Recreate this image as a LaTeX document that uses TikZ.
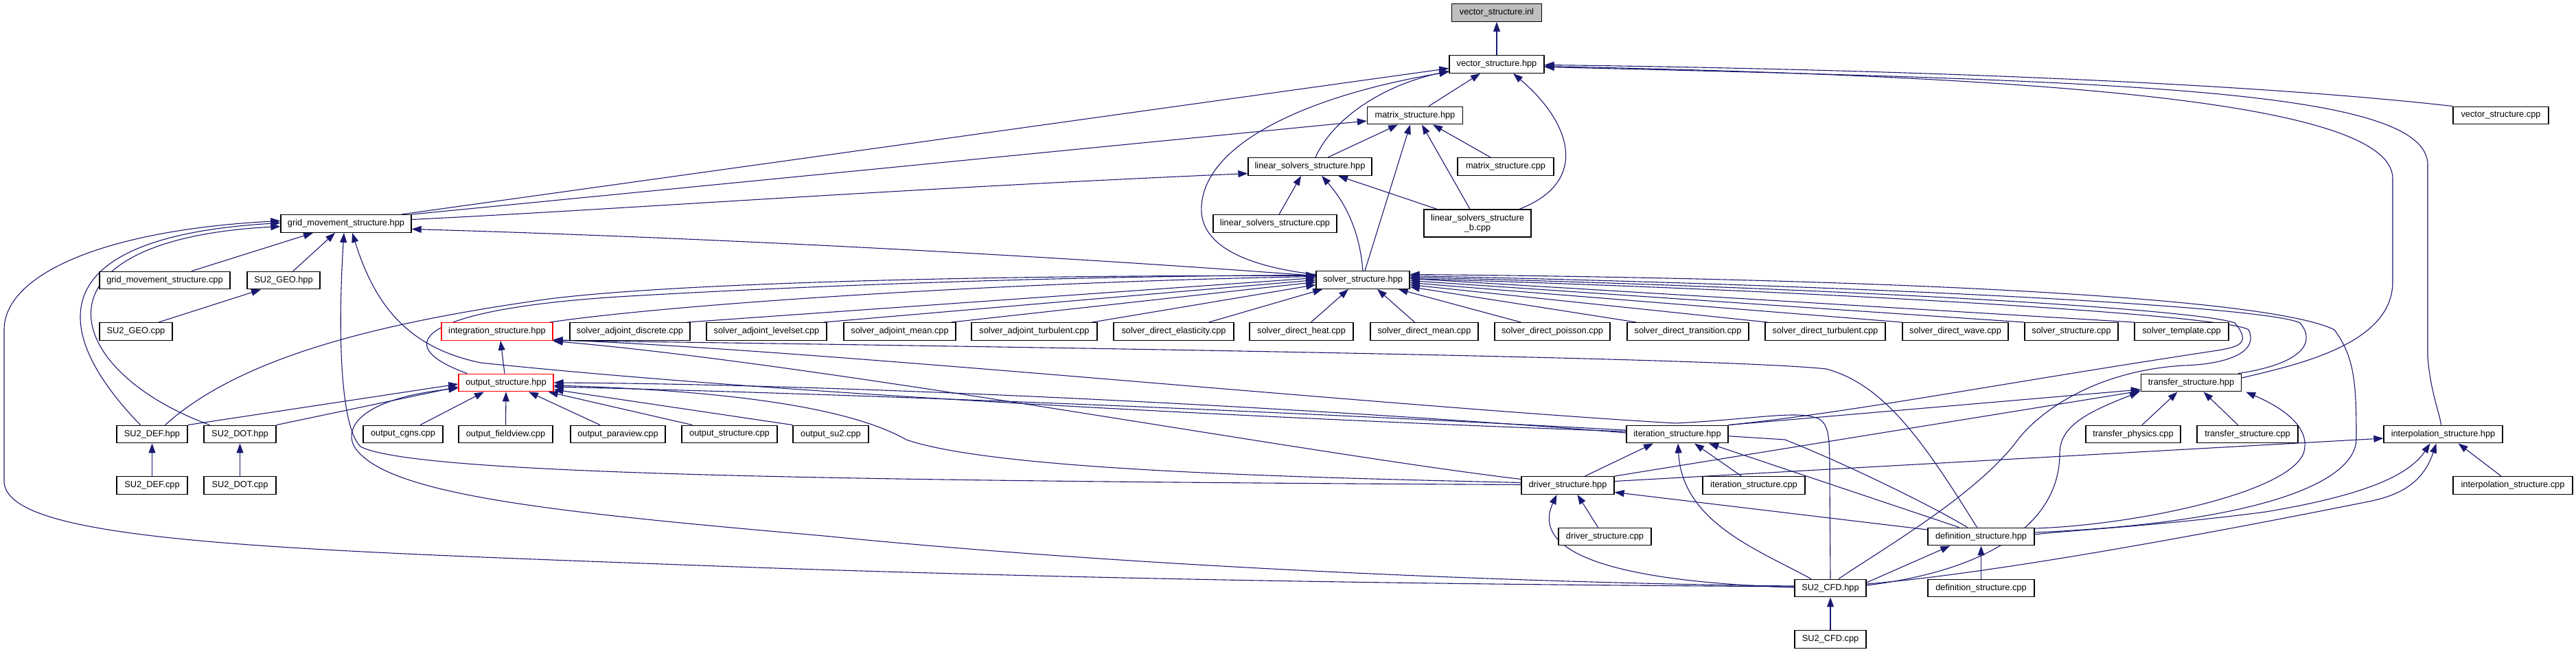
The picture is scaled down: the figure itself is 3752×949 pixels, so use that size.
\documentclass[tikz,border=0pt]{standalone}
\usepackage{fontspec}
\newfontfamily\lab{Liberation Sans}
\usetikzlibrary{arrows.meta,calc}
\definecolor{mblue}{RGB}{25,25,112}
\definecolor{gfill}{RGB}{191,191,191}
\pgfdeclarelayer{bg}
\pgfsetlayers{bg,main}
\tikzset{
  box/.style={draw=black, line width=1.3pt, fill=white, minimum height=25.6pt, inner sep=0pt, font=\lab\fontsize{12.8}{14.5}\selectfont},
  rbox/.style={box, draw=red},
  e/.style={draw=mblue, line width=1.1pt, {Triangle[length=14pt,width=10pt]}-},
}
\begin{document}
\begin{tikzpicture}[x=1pt,y=-1pt]
\useasboundingbox (0,0) rectangle (3752,949);
% nodes
\node[box, fill=gfill, minimum width=131pt] (vs_inl) at (2180,18.5) {vector\_structure.inl};
\node[box, minimum width=138pt] (vs_hpp) at (2180,93.5) {vector\_structure.hpp};
\node[box, minimum width=139pt] (ms_hpp) at (2061,168) {matrix\_structure.hpp};
\node[box, minimum width=139pt] (vs_cpp) at (3642.5,168) {vector\_structure.cpp};
\node[box, minimum width=180pt] (lss_hpp) at (1908,242.5) {linear\_solvers\_structure.hpp};
\node[box, minimum width=140pt] (ms_cpp) at (2193,242.5) {matrix\_structure.cpp};
\node[box, minimum width=190pt] (gm_hpp) at (504,325.5) {grid\_movement\_structure.hpp};
\node[box, minimum width=180pt] (lss_cpp) at (1857,325.5) {linear\_solvers\_structure.cpp};
\node[box, minimum width=156pt, minimum height=40pt, align=center] (lssb_cpp) at (2152,325) {linear\_solvers\_structure\\\_b.cpp};
\node[box, minimum width=190pt] (gm_cpp) at (240,408) {grid\_movement\_structure.cpp};
\node[box, minimum width=106pt] (geo_hpp) at (413,408) {SU2\_GEO.hpp};
\node[box, minimum width=136pt] (ss_hpp) at (1985,407.5) {solver\_structure.hpp};
\node[box, minimum width=106pt] (geo_cpp) at (198,482.5) {SU2\_GEO.cpp};
\node[rbox, minimum width=162pt] (integ) at (724,482.5) {integration\_structure.hpp};
\node[box, minimum width=175pt] (sad) at (917.5,482.5) {solver\_adjoint\_discrete.cpp};
\node[box, minimum width=175pt] (sal) at (1116.5,482.5) {solver\_adjoint\_levelset.cpp};
\node[box, minimum width=163pt] (sam) at (1310.5,482.5) {solver\_adjoint\_mean.cpp};
\node[box, minimum width=183pt] (sat) at (1506.5,482.5) {solver\_adjoint\_turbulent.cpp};
\node[box, minimum width=175pt] (sde) at (1709.5,482.5) {solver\_direct\_elasticity.cpp};
\node[box, minimum width=151pt] (sdh) at (1895.5,482.5) {solver\_direct\_heat.cpp};
\node[box, minimum width=157pt] (sdm) at (2074.5,482.5) {solver\_direct\_mean.cpp};
\node[box, minimum width=168pt] (sdp) at (2261,482.5) {solver\_direct\_poisson.cpp};
\node[box, minimum width=177pt] (sdtr) at (2458.5,482.5) {solver\_direct\_transition.cpp};
\node[box, minimum width=175pt] (sdtu) at (2658.5,482.5) {solver\_direct\_turbulent.cpp};
\node[box, minimum width=154pt] (sdw) at (2848,482.5) {solver\_direct\_wave.cpp};
\node[box, minimum width=136pt] (ss_cpp) at (3017,482.5) {solver\_structure.cpp};
\node[box, minimum width=137pt] (stemp) at (3177.5,482.5) {solver\_template.cpp};
\node[rbox, minimum width=138pt] (out_hpp) at (737,557) {output\_structure.hpp};
\node[box, minimum width=146pt] (tr_hpp) at (3191.5,557) {transfer\_structure.hpp};
\node[box, minimum width=103pt] (def_hpp) at (221.5,632) {SU2\_DEF.hpp};
\node[box, minimum width=105pt] (dot_hpp) at (349.5,632) {SU2\_DOT.hpp};
\node[box, minimum width=116pt] (cgns) at (587,632) {output\_cgns.cpp};
\node[box, minimum width=137pt] (fview) at (736.5,632) {output\_fieldview.cpp};
\node[box, minimum width=138pt] (pview) at (900,632) {output\_paraview.cpp};
\node[box, minimum width=139pt] (out_cpp) at (1062.5,632) {output\_structure.cpp};
\node[box, minimum width=110pt] (su2) at (1210,632) {output\_su2.cpp};
\node[box, minimum width=148pt] (it_hpp) at (2443,632) {iteration\_structure.hpp};
\node[box, minimum width=138pt] (tphys) at (3107,632) {transfer\_physics.cpp};
\node[box, minimum width=147pt] (tr_cpp) at (3273.5,632) {transfer\_structure.cpp};
\node[box, minimum width=173pt] (ip_hpp) at (3558.5,632) {interpolation\_structure.hpp};
\node[box, minimum width=103pt] (def_cpp) at (221.5,706.5) {SU2\_DEF.cpp};
\node[box, minimum width=105pt] (dot_cpp) at (349.5,706.5) {SU2\_DOT.cpp};
\node[box, minimum width=135pt] (dr_hpp) at (2283.5,706.5) {driver\_structure.hpp};
\node[box, minimum width=149pt] (it_cpp) at (2554.5,706.5) {iteration\_structure.cpp};
\node[box, minimum width=174pt] (ip_cpp) at (3660,706.5) {interpolation\_structure.cpp};
\node[box, minimum width=135pt] (dr_cpp) at (2337.5,781) {driver\_structure.cpp};
\node[box, minimum width=155pt] (dfn_hpp) at (2885.5,781) {definition\_structure.hpp};
\node[box, minimum width=104pt] (cfd_hpp) at (2666,856) {SU2\_CFD.hpp};
\node[box, minimum width=155pt] (dfn_cpp) at (2885.5,856) {definition\_structure.cpp};
\node[box, minimum width=104pt] (cfd_cpp) at (2666,930.5) {SU2\_CFD.cpp};
\begin{pgfonlayer}{bg}
% top part
\draw[e] (vs_inl.south) -- (vs_hpp.north);
\draw[e] ($(vs_hpp.south)+(-24,0)$) -- ($(ms_hpp.north)+(20,0)$);
\draw[e] ($(vs_hpp.west)+(0,10)$) .. controls (2010,125) and (1940,175) .. ($(lss_hpp.north)+(8,0)$);
\draw[e] ($(ms_hpp.south)+(-25,0)$) -- ($(lss_hpp.north)+(26,0)$);
\draw[e] ($(vs_hpp.south)+(24,0)$) .. controls (2290,180) and (2315,265) .. ($(lssb_cpp.north)+(61,0)$);
\draw[e] ($(ms_hpp.south)+(10,0)$) -- ($(lssb_cpp.north)+(-11,0)$);
\draw[e] ($(lss_hpp.south)+(41,0)$) -- ($(lssb_cpp.north)+(-59,0)$);
\draw[e] ($(lss_hpp.south)+(-13,0)$) -- ($(lss_cpp.north)+(6,0)$);
\draw[e] ($(ms_hpp.south)+(26,0)$) -- ($(ms_cpp.north)+(-22,0)$);
\draw[e] ($(vs_hpp.east)+(0,1)$) .. controls (2700,100) and (3250,118) .. (vs_cpp.north west);
\draw[e] ($(vs_hpp.west)+(0,6)$) -- ($(gm_hpp.north east)+(-15,0)$);
\draw[e] ($(ms_hpp.west)+(0,8)$) -- (gm_hpp.north east);
\draw[e] ($(lss_hpp.west)+(0,10)$) .. controls (1300,275) and (900,305) .. ($(gm_hpp.east)+(0,-6)$);
\draw[e] ($(vs_hpp.west)+(0,11)$) .. controls (1900,140) and (1755,210) .. (1750,300) .. controls (1745,370) and (1850,392) .. ($(ss_hpp.west)+(0,-8)$);
\draw[e] ($(ms_hpp.south)+(-7,0)$) -- ($(ss_hpp.north)+(3,0)$);
\draw[e] ($(lss_hpp.south)+(17,0)$) .. controls (1955,290) and (1980,330) .. (ss_hpp.north);
\draw[e] ($(gm_hpp.east)+(0,8)$) .. controls (1000,345) and (1500,370) .. ($(ss_hpp.west)+(0,-6)$);
\draw[e] ($(vs_hpp.east)+(0,3)$) .. controls (3000,112) and (3485,150) .. (3485,260) -- (3485,410) .. controls (3485,500) and (3350,530) .. ($(tr_hpp.east)+(0,-7)$);
\draw[e] ($(vs_hpp.east)+(0,4)$) .. controls (3100,118) and (3536,130) .. (3536,240) -- (3536,520) .. controls (3540,570) and (3553,600) .. ($(ip_hpp.north)+(-3,0)$);
% grid movement
\draw[e] ($(gm_hpp.south)+(-48,0)$) -- ($(gm_cpp.north)+(39,0)$);
\draw[e] ($(gm_hpp.south)+(-16,0)$) -- ($(geo_hpp.north)+(14,0)$);
\draw[e] ($(geo_hpp.south)+(-33,0)$) -- ($(geo_cpp.north)+(33,0)$);
\draw[e] ($(gm_hpp.west)+(0,-1)$) .. controls (60,345) and (70,480) .. ($(def_hpp.north)+(-17,0)$);
\draw[e] ($(gm_hpp.west)+(0,4)$) .. controls (30,350) and (90,540) .. ($(dot_hpp.north)+(-44,0)$);
\draw[e] ($(gm_hpp.west)+(0,-4)$) .. controls (150,335) and (6,400) .. (6,480) -- (6,700) .. controls (6,790) and (400,800) .. (1100,826) .. controls (1800,850) and (2400,852) .. ($(cfd_hpp.west)+(0,-2)$);
\draw[e] ($(gm_hpp.south)+(-3,0)$) .. controls (492,480) and (495,620) .. (525,650) .. controls (600,690) and (1200,700) .. ($(dr_hpp.west)+(0,-1)$);
\draw[e] ($(gm_hpp.south)+(9,0)$) .. controls (545,440) and (590,505) .. (700,528) .. controls (1200,580) and (2000,615) .. ($(it_hpp.west)+(0,-4)$);
% solver structure
\draw[e] ($(ss_hpp.west)+(0,-3)$) -- ($(sad.north east)+(-5,0)$);
\draw[e] ($(ss_hpp.west)+(0,0)$) -- ($(sal.north east)+(-5,0)$);
\draw[e] ($(ss_hpp.west)+(0,3)$) -- ($(sam.north east)+(-7,0)$);
\draw[e] ($(ss_hpp.west)+(0,7)$) -- ($(sat.north east)+(-8,0)$);
\draw[e] ($(ss_hpp.south west)+(10,0)$) -- ($(sde.north east)+(-37,0)$);
\draw[e] ($(ss_hpp.south)+(-21,0)$) -- ($(sdh.north)+(14,0)$);
\draw[e] ($(ss_hpp.south)+(21,0)$) -- ($(sdm.north)+(-14,0)$);
\draw[e] ($(ss_hpp.south east)+(-17,0)$) -- ($(sdp.north west)+(39,0)$);
\draw[e] ($(ss_hpp.east)+(0,10)$) -- ($(sdtr.north west)+(14,0)$);
\draw[e] ($(ss_hpp.east)+(0,7)$) -- ($(sdtu.north west)+(4,0)$);
\draw[e] ($(ss_hpp.east)+(0,4)$) -- ($(sdw.north west)+(0,0)$);
\draw[e] ($(ss_hpp.east)+(0,1)$) -- (ss_cpp.north west);
\draw[e] ($(ss_hpp.east)+(0,-2)$) -- (stemp.north west);
\draw[e] ($(ss_hpp.west)+(0,-5)$) .. controls (1500,410) and (1000,440) .. ($(integ.north east)+(-5,0)$);
\draw[e] ($(ss_hpp.west)+(0,-7)$) .. controls (1500,402) and (1100,420) .. (900,432) .. controls (620,450) and (560,500) .. ($(out_hpp.north west)+(13,0)$);
\draw[e] ($(ss_hpp.west)+(0,-6)$) .. controls (1500,400) and (1000,410) .. (800,435) .. controls (550,470) and (350,520) .. ($(def_hpp.north)+(19,0)$);
% output
\draw[e] ($(integ.south)+(5,0)$) -- ($(out_hpp.north)+(-2,0)$);
\draw[e] ($(out_hpp.west)+(0,2)$) -- (def_hpp.north east);
\draw[e] ($(out_hpp.west)+(0,6)$) -- (dot_hpp.north east);
\draw[e] ($(out_hpp.west)+(0,8)$) .. controls (530,580) and (500,620) .. (516,650) .. controls (560,720) and (800,745) .. (1200,780) .. controls (1700,830) and (2300,850) .. ($(cfd_hpp.west)+(0,-3)$);
\draw[e] ($(out_hpp.south)+(-32,0)$) -- ($(cgns.north)+(25,0)$);
\draw[e] (out_hpp.south) -- (fview.north);
\draw[e] ($(out_hpp.south)+(33,0)$) -- ($(pview.north)+(-26,0)$);
\draw[e] ($(out_hpp.south east)+(-8,0)$) -- ($(out_cpp.north west)+(16,0)$);
\draw[e] ($(out_hpp.east)+(0,10)$) -- ($(su2.north west)+(0,0)$);
\draw[e] (def_hpp.south) -- (def_cpp.north);
\draw[e] (dot_hpp.south) -- (dot_cpp.north);
% iteration / driver / definition / cfd
\draw[e] ($(integ.east)+(0,12)$) .. controls (1200,510) and (2000,590) .. (2440,616) .. controls (2560,610) and (2620,596) .. (2650,610) .. controls (2665,620) and (2665,640) .. (2665,700) -- (cfd_hpp.north);
\draw[e] ($(out_hpp.east)+(0,0)$) .. controls (1300,560) and (2000,600) .. ($(it_hpp.west)+(0,-2)$);
\draw[e] ($(integ.east)+(0,14)$) .. controls (1200,530) and (1900,660) .. ($(dr_hpp.west)+(0,-9)$);
\draw[e] ($(out_hpp.east)+(0,4)$) .. controls (1100,570) and (1250,600) .. (1320,640) .. controls (1450,685) and (1900,695) .. ($(dr_hpp.west)+(0,-4)$);
\draw[e] ($(integ.east)+(0,13)$) .. controls (1500,505) and (2500,520) .. (2660,537) .. controls (2744,560) and (2800,640) .. ($(dfn_hpp.north)+(-6,0)$);
\draw[e] ($(out_hpp.east)+(0,6)$) .. controls (1500,580) and (2300,620) .. (2600,640) .. controls (2700,680) and (2820,740) .. ($(dfn_hpp.north)+(-20,0)$);
\draw[e] ($(it_hpp.south)+(-35,0)$) -- ($(dr_hpp.north)+(25,0)$);
\draw[e] ($(it_hpp.south)+(25,0)$) -- ($(it_cpp.north)+(-18,0)$);
\draw[e] ($(it_hpp.south)+(1,0)$) .. controls (2450,760) and (2560,800) .. ($(cfd_hpp.north)+(-28,0)$);
\draw[e] ($(it_hpp.south)+(46,0)$) -- ($(dfn_hpp.north)+(-32,0)$);
\draw[e] ($(dr_hpp.south)+(14,0)$) -- ($(dr_cpp.north)+(-10,0)$);
\draw[e] ($(dr_hpp.south)+(-16,0)$) .. controls (2235,790) and (2300,845) .. ($(cfd_hpp.west)+(0,-1)$);
\draw[e] ($(dr_hpp.east)+(0,10)$) -- ($(dfn_hpp.west)+(0,-10)$);
\draw[e] (cfd_hpp.south) -- (cfd_cpp.north);
\draw[e] (dfn_hpp.south) -- (dfn_cpp.north);
\draw[e] ($(dfn_hpp.south west)+(33,0)$) -- ($(cfd_hpp.east)+(0,-8)$);
% transfer / interpolation
\draw[e] ($(tr_hpp.south)+(-20,0)$) -- ($(tphys.north)+(13,0)$);
\draw[e] ($(tr_hpp.south)+(18,0)$) -- ($(tr_cpp.north)+(-14,0)$);
\draw[e] ($(tr_hpp.west)+(0,10)$) -- (it_hpp.north east);
\draw[e] ($(tr_hpp.west)+(0,12)$) -- (dr_hpp.north east);
\draw[e] ($(tr_hpp.south west)+(-2,0)$) .. controls (3040,600) and (3000,620) .. (3000,660) .. controls (3000,760) and (2900,830) .. ($(cfd_hpp.east)+(0,-4)$);
\draw[e] ($(tr_hpp.south east)+(6,0)$) .. controls (3340,600) and (3365,630) .. (3355,660) .. controls (3330,720) and (3100,765) .. ($(dfn_hpp.east)+(0,-12)$);
\draw[e] ($(ss_hpp.east)+(0,-6)$) .. controls (2700,415) and (3300,445) .. (3350,470) .. controls (3375,500) and (3350,530) .. ($(tr_hpp.north east)+(-5,0)$);
\draw[e] ($(ss_hpp.east)+(0,-4)$) .. controls (2700,420) and (3200,450) .. (3255,470) .. controls (3280,500) and (3260,505) .. (3230,510) .. controls (2900,560) and (2700,600) .. (it_hpp.north east);
\draw[e] ($(ss_hpp.east)+(0,-2)$) .. controls (2700,425) and (3250,460) .. (3275,480) .. controls (3290,510) and (3250,530) .. (3180,532) .. controls (3050,540) and (2970,600) .. (2939,640) .. controls (2880,720) and (2740,800) .. ($(cfd_hpp.north)+(12,0)$);
\draw[e] ($(ss_hpp.east)+(0,-8)$) .. controls (2700,405) and (3300,430) .. (3400,480) .. controls (3430,520) and (3432,560) .. (3432,640) .. controls (3430,700) and (3300,760) .. ($(dfn_hpp.east)+(0,-6)$);
\draw[e] ($(ip_hpp.south)+(-19,0)$) .. controls (3510,690) and (3450,720) .. (3300,745) .. controls (3150,765) and (3000,773) .. ($(dfn_hpp.east)+(0,-3)$);
\draw[e] ($(ip_hpp.south)+(-10,0)$) .. controls (3530,700) and (3500,720) .. (3450,730) .. controls (3200,780) and (2900,835) .. ($(cfd_hpp.east)+(0,-6)$);
\draw[e] ($(ip_hpp.west)+(0,6)$) -- ($(dr_hpp.east)+(0,-6)$);
\draw[e] ($(ip_hpp.south)+(22,0)$) -- ($(ip_cpp.north)+(-17,0)$);
\end{pgfonlayer}
\end{tikzpicture}
\end{document}
